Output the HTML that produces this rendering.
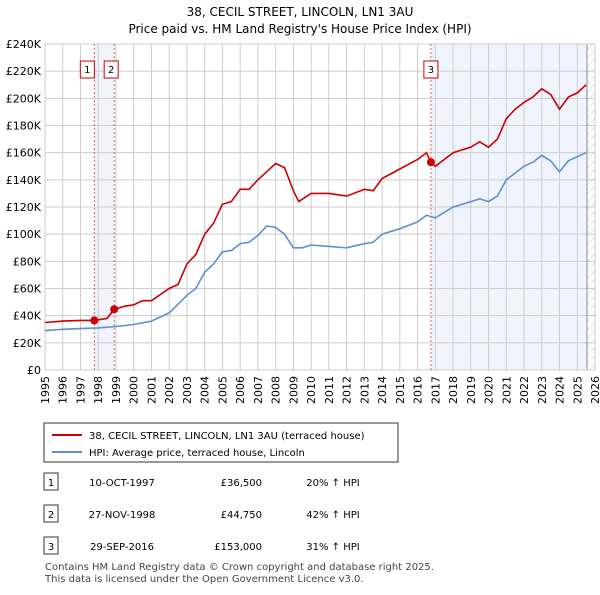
<!DOCTYPE html>
<html><head><meta charset="utf-8"><style>
body{margin:0;background:#fff;font-family:"Liberation Sans","DejaVu Sans",sans-serif;}
svg text{font-family:"DejaVu Sans","Liberation Sans",sans-serif;}
</style></head><body>
<svg id="c" width="600" height="590" xmlns="http://www.w3.org/2000/svg">
<text x="300" y="16" text-anchor="middle" font-size="12">38, CECIL STREET, LINCOLN, LN1 3AU</text>
<text x="300" y="33" text-anchor="middle" font-size="12">Price paid vs. HM Land Registry's House Price Index (HPI)</text>
<g id="plot"></g>
<g>
<rect x="44" y="423" width="354" height="39" fill="#fff" stroke="#333"/>
<line x1="52" y1="435" x2="82" y2="435" stroke="#cc0000" stroke-width="2"/>
<text x="89" y="439" font-size="10">38, CECIL STREET, LINCOLN, LN1 3AU (terraced house)</text>
<line x1="52" y1="452" x2="82" y2="452" stroke="#5b8fd1" stroke-width="2"/>
<text x="89" y="456" font-size="10">HPI: Average price, terraced house, Lincoln</text>
</g>
<g id="table" font-size="10"></g>
<text x="45" y="570" font-size="10" fill="#444">Contains HM Land Registry data © Crown copyright and database right 2025.</text>
<text x="45" y="582" font-size="10" fill="#444">This data is licensed under the Open Government Licence v3.0.</text>
</svg>
<script>
const hpiYears=[1995,1996,1997,1998,1999,2000,2001,2002,2003,2003.5,2004,2004.5,2005,2005.5,2006,2006.5,2007,2007.5,2008,2008.5,2009,2009.5,2010,2011,2012,2013,2013.5,2014,2015,2016,2016.5,2017,2017.5,2018,2019,2019.5,2020,2020.5,2021,2021.5,2022,2022.5,2023,2023.5,2024,2024.5,2025,2025.5];
const hpiValues=[29,30,30.5,31,32,33.5,36,42,55,60,72,78,87,88,93,94,99,106,105,100,90,90,92,91,90,93,94,100,104,109,114,112,116,120,124,126,124,128,140,145,150,153,158,154,146,154,157,160];
const priceYears=[1995,1996,1997,1997.78,1998.5,1998.9,1999.5,2000,2000.5,2001,2002,2002.5,2003,2003.5,2004,2004.5,2005,2005.5,2006,2006.5,2007,2007.5,2008,2008.5,2009,2009.3,2010,2011,2012,2013,2013.5,2014,2015,2016,2016.5,2016.75,2017,2017.5,2018,2019,2019.5,2020,2020.5,2021,2021.5,2022,2022.5,2023,2023.5,2024,2024.5,2025,2025.5];
const priceValues=[35,36,36.5,36.5,38,44.75,47,48,51,51,60,63,78,85,100,108,122,124,133,133,140,146,152,149,132,124,130,130,128,133,132,141,148,155,160,153,150,155,160,164,168,164,170,185,192,197,201,207,203,192,201,204,210];
const saleYears=[1997.78,1998.9,2016.75];
const saleValues=[36.5,44.75,153];
const saleLabels=["1","2","3"];
const saleDates=["10-OCT-1997","27-NOV-1998","29-SEP-2016"];
const salePrices=["£36,500","£44,750","£153,000"];
const saleHpi=["20% ↑ HPI","42% ↑ HPI","31% ↑ HPI"];
const yTicks=[0,20,40,60,80,100,120,140,160,180,200,220,240];
const xTicks=[];for(let y=1995;y<=2026;y++)xTicks.push(y);
const NS="http://www.w3.org/2000/svg";
const X0=45,X1=595,Y0=370,Y1=44;
const sx=y=>X0+(y-1995)/(2026-1995)*(X1-X0);
const sy=v=>Y0-v/240*(Y0-Y1);
const plot=document.getElementById('plot');
function mk(t,a,p){const e=document.createElementNS(NS,t);for(const k in a)e.setAttribute(k,a[k]);(p||plot).appendChild(e);return e;}
// shading
let e=mk('rect',{x:sx(saleYears[0]),y:Y1,width:sx(saleYears[1])-sx(saleYears[0]),height:Y0-Y1,fill:'#eef3fc'});


e=mk('rect',{x:sx(saleYears[2]),y:Y1,width:sx(2025.55)-sx(saleYears[2]),height:Y0-Y1,fill:'#eef3fc'});


const defs=mk('defs',{});
const pat=mk('pattern',{id:'hatch',width:6,height:6,patternUnits:'userSpaceOnUse',patternTransform:'rotate(45)'},defs);
mk('line',{x1:0,y1:0,x2:0,y2:6,stroke:'#ccc','stroke-width':1},pat);
e=mk('rect',{x:sx(2025.55),y:Y1,width:X1-sx(2025.55),height:Y0-Y1,fill:'url(#hatch)'});


// grid
yTicks.forEach(v=>{const l=mk('line',{x1:X0,x2:X1,y1:sy(v),y2:sy(v),stroke:'#ccc'});


const t=mk('text',{x:X0-4,y:sy(v)+4,'text-anchor':'end','font-size':11});t.textContent=v===0?'£0':'£'+v+'K';

});
xTicks.forEach(y=>{const l=mk('line',{x1:sx(y),x2:sx(y),y1:Y1,y2:Y0,stroke:'#ccc'});


const t=mk('text',{x:0,y:0,'text-anchor':'end','font-size':11,transform:`translate(${sx(y)+4},${Y0+6}) rotate(-90)`});t.textContent=y;

});
mk('line',{x1:sx(2025.55),x2:sx(2025.55),y1:Y1,y2:Y0,stroke:'#888'});
mk('rect',{x:X0,y:Y1,width:X1-X0,height:Y0-Y1,fill:'none',stroke:'#ccc'});
// sale lines and markers
saleYears.forEach((y,i)=>{const l=mk('line',{x1:sx(y),x2:sx(y),y1:Y1,y2:Y0,stroke:'#e06060','stroke-dasharray':'2,2'});


const bx=i===0?sx(y)-14:(i===1?sx(y)-10:sx(y)-7);
const b=mk('rect',{x:bx,y:61,width:14,height:17,fill:'#fff',stroke:'#cc0000'});


const t=mk('text',{x:bx+7,y:73,'text-anchor':'middle','font-size':10});t.textContent=saleLabels[i];

});
// lines
function line(xs,vs,col,name){const d=xs.map((x,i)=>(i?'L':'M')+sx(x).toFixed(1)+','+sy(vs[i]).toFixed(1)).join('');
const p=mk('path',{d:d,fill:'none',stroke:col,'stroke-width':1.6});

}
line(hpiYears,hpiValues,'#5b8fd1','hpi-line');
line(priceYears,priceValues,'#cc0000','price-line');
saleYears.forEach((y,i)=>{const c=mk('circle',{cx:sx(y),cy:sy(saleValues[i]),r:4,fill:'#cc0000'});

});
// table
const tb=document.getElementById('table');
saleLabels.forEach((lab,i)=>{const yy=482+i*32;
const b=mk('rect',{x:44,y:yy-9,width:14,height:17,fill:'#fff',stroke:'#333'},tb);


const vals=[[51,lab,'middle'],[122,saleDates[i],'middle'],[262,salePrices[i],'end'],[333,saleHpi[i],'middle']];
vals.forEach(v=>{const t=mk('text',{x:v[0],y:yy+4,'text-anchor':v[2]},tb);t.textContent=v[1];

});});
</script>
</body></html>
